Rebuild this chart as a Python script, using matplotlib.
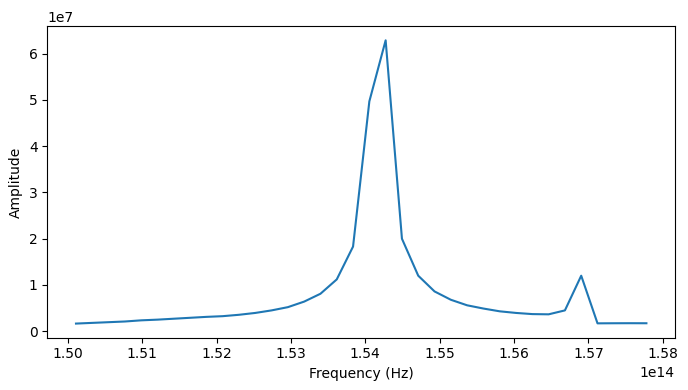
import numpy as np
import matplotlib
matplotlib.use("Agg")
import matplotlib.pyplot as plt

# frequency grid (36 evenly spaced points)
freq = np.linspace(1.5011e14, 1.5778e14, 36)

# amplitude in units of 1e7
amp_e7 = [0.165, 0.18, 0.195, 0.21, 0.235, 0.25, 0.27, 0.29, 0.31, 0.325,
          0.355, 0.395, 0.45, 0.52, 0.64, 0.81, 1.12, 1.83, 4.97, 6.29,
          2.0, 1.2, 0.86, 0.68, 0.56, 0.49, 0.43, 0.395, 0.37, 0.365,
          0.45, 1.2, 0.17, 0.172, 0.173, 0.172]
amp = np.array(amp_e7) * 1e7

fig, ax = plt.subplots(figsize=(6.88, 3.9), dpi=100)
ax.plot(freq, amp)
ax.set_xlabel("Frequency (Hz)")
ax.set_ylabel("Amplitude")
fig.subplots_adjust(left=0.069, right=0.981, top=0.933, bottom=0.134)
fig.savefig("out.png")
